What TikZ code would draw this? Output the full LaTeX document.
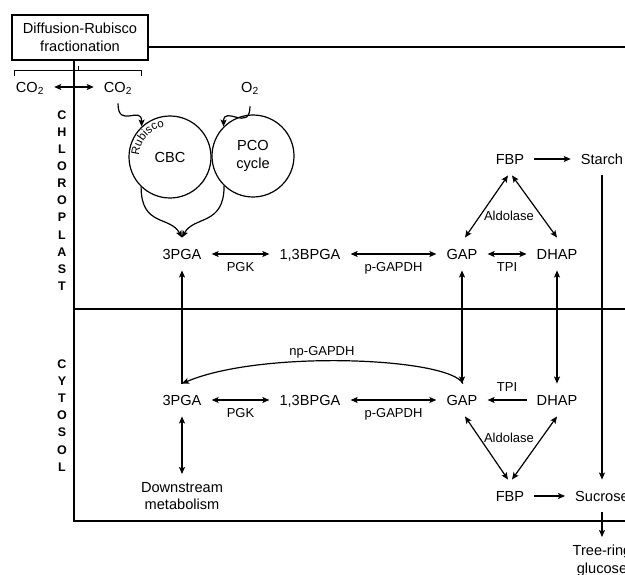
\documentclass[tikz,border=0pt]{standalone}
\usepackage{fontspec}
\setmainfont{Liberation Sans}
\usetikzlibrary{arrows.meta,decorations.text}
\newcommand{\dgmain}{\fontsize{14.6}{17.5}\selectfont}
\newcommand{\dglab}{\fontsize{13}{15}\selectfont}
\newcommand{\dgrub}{\fontsize{11.5}{12}\selectfont}
\tikzset{
  met/.style={font=\dgmain, inner xsep=10pt, inner ysep=11pt, text height=10.5pt, text depth=0pt},
  lab/.style={font=\dglab, inner sep=0pt, text height=9.3pt, text depth=0pt},
  tip/.tip={Stealth[length=7pt,width=6pt,inset=1.5pt]},
  conn/.style={line width=1.2pt, -tip},
  bconn/.style={line width=1.2pt, tip-tip},
  plain/.style={line width=1.2pt},
  frameline/.style={line width=1.3pt},
  cyc/.style={circle, draw, line width=1.2pt, minimum size=82pt, inner sep=0pt, font=\dgmain, align=center},
  side/.style={font=\bfseries\fontsize{12.5}{17.1}\selectfont, align=center, inner sep=0pt},
  multi/.style={font=\fontsize{14.6}{17.5}\selectfont, align=center, inner xsep=2pt, inner ysep=8pt}
}
\begin{document}
\begin{tikzpicture}[x=1pt,y=-1pt]
\useasboundingbox (0,0) rectangle (625,575);
\clip (0,0) rectangle (625,575);

% title box and frame
\node[draw, line width=1.2pt, minimum width=136pt, minimum height=45pt, inner sep=0pt, align=center,
      font=\fontsize{14.6}{18}\selectfont] (box) at (80,37.5) {Diffusion-Rubisco\\fractionation};
\coordinate (tr) at (625,47);
\coordinate (bl) at (74,521);
\coordinate (br) at (625,521);
\coordinate (ml) at (74,309);
\coordinate (mr) at (625,309);
\draw[frameline] (box.east |- tr) -- (tr);
\draw[frameline] (bl |- box.south) -- (bl) -- (br);
\draw[frameline] (ml) -- (mr);

% bracket
\coordinate (bk1) at (14,76);
\coordinate (bk2) at (14,71);
\coordinate (bk3) at (141,71);
\coordinate (bk4) at (141,76);
\coordinate (bkt) at (78,71);
\coordinate (bku) at (78,66);
\draw[line width=1pt] (bk1) -- (bk2) -- (bk3) -- (bk4);
\draw[line width=1pt] (bkt) -- (bku);

% side labels
\node[side] (chl) at (62,200.5) {C\\H\\L\\O\\R\\O\\P\\L\\A\\S\\T};
\node[side] (cyt) at (62,415.5) {C\\Y\\T\\O\\S\\O\\L};

% CO2 / O2
\node[met] (co2l) at (30,87) {CO\textsubscript{2}};
\node[met] (co2r) at (118,87) {CO\textsubscript{2}};
\node[met] (o2) at (250,87) {O\textsubscript{2}};
\draw[bconn] (co2l) -- (co2r);

% cycles
\node[cyc] (cbc) at (170,157) {CBC};
\node[cyc, font=\fontsize{14.6}{18}\selectfont] (pco) at (253,156) {PCO\\cycle};
\path[decorate, decoration={text along path, text={|\dgrub|Rubisco}, text align=left}]
  ([shift={(177:31pt)}]cbc.center) arc[start angle=177, end angle=90, radius=31pt];

% chloroplast row
\node[met] (pga1) at (182,254) {3PGA};
\node[met] (bpga1) at (310,254) {1,3BPGA};
\node[met] (gap1) at (462,254) {GAP};
\node[met] (dhap1) at (557,254) {DHAP};
\node[met] (fbp1) at (510,159) {FBP};
\node[met] (starch) at (602,159) {Starch};

\draw[conn] (co2r.south) .. controls +(0,26) and +(0,-22) .. (cbc.133);
\draw[conn] ([yshift=-3pt]o2.south) .. controls +(0,26) and +(0,-22) .. (pco.135);
\draw[conn] (cbc.226) .. controls +(0,40) and +(-12,-22) .. (pga1.north);
\draw[conn] (pco.226) .. controls +(0,40) and +(12,-22) .. (pga1.north);

\draw[bconn] (pga1) -- (bpga1) node[lab, midway, yshift=-13pt] (pgk1) {PGK};
\draw[bconn] (bpga1) -- (gap1) node[lab, midway, yshift=-13pt] (pg1) {p-GAPDH};
\draw[bconn] (gap1) -- (dhap1) node[lab, midway, yshift=-13pt] (tpi1) {TPI};
\draw[bconn] ([xshift=-2pt]fbp1.south) -- ([xshift=3pt]gap1.north);
\draw[bconn] ([xshift=2pt]fbp1.south) -- (dhap1.north);
\node[lab] (ald1) at (509,216) {Aldolase};
\draw[conn] (fbp1) -- (starch);

% cytosol row
\node[met] (pga2) at (182,400) {3PGA};
\node[met] (bpga2) at (310,400) {1,3BPGA};
\node[met] (gap2) at (462,400) {GAP};
\node[met] (dhap2) at (557,400) {DHAP};
\node[met] (fbp2) at (510,496) {FBP};
\node[met] (sucrose) at (602,496) {Sucrose};
\node[multi, anchor=north] (down) at (182,474) {Downstream\\metabolism};
\node[multi, anchor=north, font=\fontsize{14.6}{18}\selectfont] (tree) at (602,537) {Tree-ring\\glucose};

\draw[bconn] (pga2) -- (bpga2) node[lab, midway, yshift=-13pt] (pgk2) {PGK};
\draw[bconn] (bpga2) -- (gap2) node[lab, midway, yshift=-13pt] (pg2) {p-GAPDH};
\draw[conn] (dhap2) -- (gap2) node[lab, midway, yshift=13pt] (tpi2) {TPI};
\draw[bconn] ([xshift=3pt]gap2.south) -- ([xshift=-2pt]fbp2.north);
\draw[bconn] (dhap2.south) -- ([xshift=2pt]fbp2.north);
\node[lab] (ald2) at (509,438) {Aldolase};
\draw[conn] (fbp2) -- (sucrose);
\draw[conn] (sucrose) -- (tree);
\draw[bconn] (pga2) -- (down);

% between compartments
\draw[conn] (pga2) -- (pga1);
\draw[bconn] (gap1) -- (gap2);
\draw[bconn] (dhap1) -- (dhap2);
\draw[conn] (starch) -- (sucrose);
\draw[conn] ([xshift=1pt]gap2.north) .. controls +(-14,-26) and +(80,-34) .. (pga2.north);
\node[lab] (npg) at (322,351) {np-GAPDH};
\end{tikzpicture}
\end{document}
